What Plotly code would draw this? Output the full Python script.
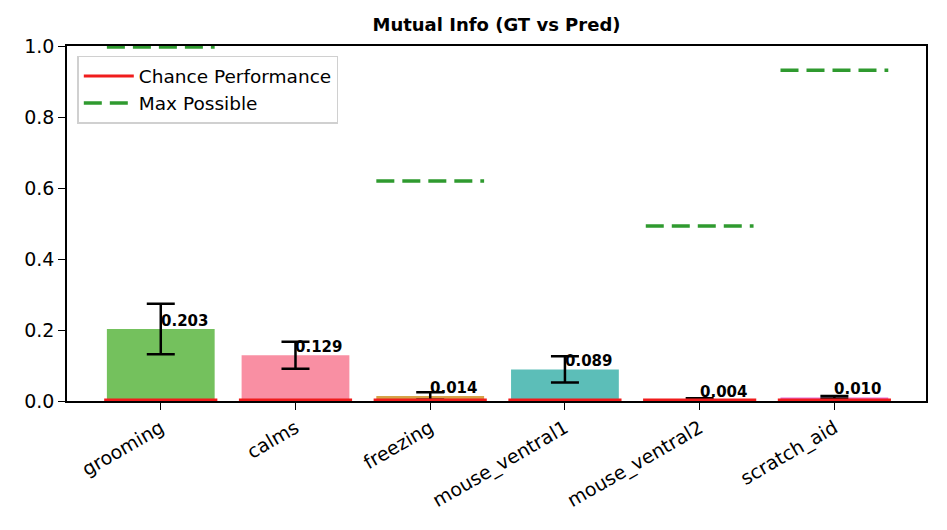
import plotly.graph_objects as go

categories = ["grooming", "calms", "freezing", "mouse_ventral1", "mouse_ventral2", "scratch_aid"]
mi_values = [0.203, 0.129, 0.014, 0.089, 0.004, 0.010]
mi_errors = [0.071, 0.038, 0.0105, 0.037, 0.0036, 0.004]
chance_values = [0.003, 0.003, 0.003, 0.003, 0.003, 0.003]
max_possible = [0.997, None, 0.620, None, 0.493, 0.932]
bar_colors = ["#74c15d", "#f98fa3", "#d6a348", "#5cbeb8", "#e8685a", "#e96ed6"]

FONT = "DejaVu Sans"
x_idx = list(range(len(categories)))
half = 0.4

fig = go.Figure()
fig.add_trace(go.Bar(
    x=x_idx, y=mi_values, width=0.8,
    marker=dict(color=bar_colors, line=dict(width=0)),
    error_y=dict(type="data", array=mi_errors, color="black", thickness=2.5, width=14),
    showlegend=False,
))

for i, c in enumerate(chance_values):
    fig.add_trace(go.Scatter(
        x=[i - 0.42, i + 0.42], y=[c, c], mode="lines",
        line=dict(color="#f01c1c", width=3),
        name="Chance Performance", legendgroup="chance", showlegend=(i == 0),
        hoverinfo="skip",
    ))

first = True
for i, m in enumerate(max_possible):
    if m is None:
        continue
    fig.add_trace(go.Scatter(
        x=[i - half, i + half], y=[m, m], mode="lines",
        line=dict(color="#2f9a2f", width=3.5, dash="18px,8px"),
        name="Max Possible", legendgroup="max", showlegend=first,
        hoverinfo="skip",
    ))
    first = False

for i, v in enumerate(mi_values):
    fig.add_annotation(
        x=i, y=v, text=f"<b>{v:.3f}</b>", showarrow=False,
        xanchor="left", yanchor="bottom", xshift=-2, yshift=-3,
        font=dict(family=FONT, size=15, color="black"),
    )

fig.update_layout(
    width=947, height=530,
    margin=dict(l=59, r=29, t=38, b=137),
    paper_bgcolor="white", plot_bgcolor="white",
    title=dict(text="<b>Mutual Info (GT vs Pred)</b>", x=0.5, xref="paper", xanchor="center",
               y=0.968, yref="container", yanchor="middle",
               font=dict(family=FONT, size=18, color="black")),
    font=dict(family=FONT, size=19, color="black"),
    legend=dict(x=0.012, y=0.972, xanchor="left", yanchor="top",
                bgcolor="rgba(255,255,255,0.85)", bordercolor="#d0d0d0", borderwidth=1.5,
                font=dict(family=FONT, size=18.5), tracegroupgap=0,
                itemwidth=50),
)
fig.update_xaxes(
    range=[-0.696, 5.68], tickmode="array", tickvals=x_idx, ticktext=categories,
    tickangle=-30, showgrid=False, zeroline=False,
    showline=True, linecolor="black", linewidth=1.5, mirror=True,
    ticks="outside", ticklen=7, tickwidth=1.2, tickcolor="black",
    tickfont=dict(family=FONT, size=19),
)
fig.update_yaxes(
    range=[0, 1.0], tickvals=[0, 0.2, 0.4, 0.6, 0.8, 1.0],
    ticktext=["0.0", "0.2", "0.4", "0.6", "0.8", "1.0"],
    showgrid=False, zeroline=False,
    showline=True, linecolor="black", linewidth=1.5, mirror=True,
    ticks="outside", ticklen=7, tickwidth=1.2, tickcolor="black",
    tickfont=dict(family=FONT, size=19),
)

fig.write_html("out.html")
